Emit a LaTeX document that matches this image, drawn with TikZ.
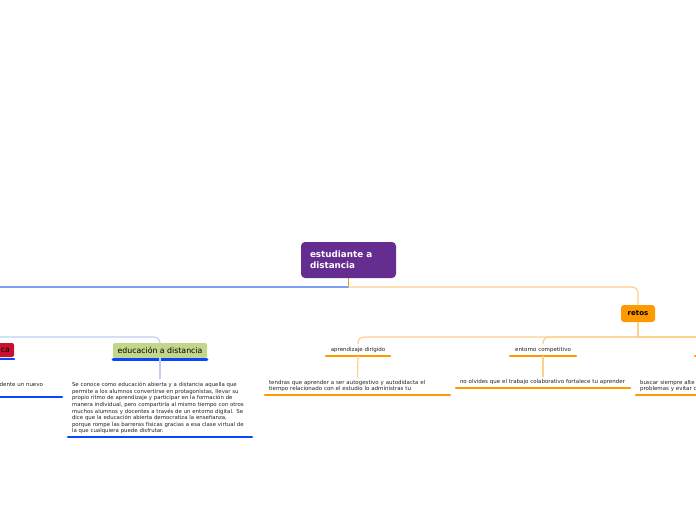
\documentclass[tikz,border=0pt]{standalone}
\usepackage{fontspec}
\setmainfont{DejaVu Sans}
\definecolor{cpurple}{RGB}{102,45,145}
\definecolor{cdorange}{RGB}{245,150,30}
\definecolor{clorange}{RGB}{255,208,140}
\definecolor{corange}{RGB}{255,153,0}
\definecolor{ctblue}{RGB}{125,160,240}
\definecolor{clblue}{RGB}{190,208,250}
\definecolor{cblue}{RGB}{10,70,255}
\definecolor{cgreen}{RGB}{196,214,138}
\definecolor{cred}{RGB}{200,16,46}
\definecolor{ctext}{RGB}{35,35,35}
\newcommand{\myline}[1]{\mbox{#1}}
\begin{document}
\begin{tikzpicture}[x=1pt,y=-1pt,
 every node/.style={inner sep=0pt,outer sep=0pt},
 rootbox/.style={fill=cpurple,rounded corners=4pt,minimum width=95pt,minimum height=36pt,text width=77pt,align=left,inner xsep=9pt,text=white,font=\fontsize{8.8}{11}\selectfont\bfseries},
 retobox/.style={fill=corange,rounded corners=3pt,minimum width=34pt,minimum height=17pt,font=\fontsize{7}{8}\selectfont\bfseries},
 edubox/.style={fill=cgreen,rounded corners=2pt,minimum width=94pt,minimum height=15pt,font=\fontsize{7.8}{9}\selectfont},
 redbox/.style={fill=cred,rounded corners=2pt,minimum height=14pt,text width=36pt,align=right,inner xsep=4pt,font=\fontsize{7.8}{9}\selectfont},
 sub/.style={minimum height=12pt,font=\fontsize{5.5}{6.6}\selectfont,text=ctext},
 leaf/.style={align=left,inner xsep=4pt,inner ysep=3pt,font=\fontsize{5.5}{6.8}\selectfont,text=ctext},
 plain/.style={font=\fontsize{5.5}{6.8}\selectfont,text=ctext},
 uo/.style={draw=corange,line width=2.6pt,line cap=round},
 ub/.style={draw=cblue,line width=2.6pt,line cap=round},
 lo/.style={draw=clorange,line width=1.2pt},
 lb/.style={draw=clblue,line width=1.2pt},
]
\useasboundingbox (0,0) rectangle (696,520);
\fill[white] (0,0) rectangle (696,520);

% root
\node[rootbox,anchor=north west] (root) at (301,242) {estudiante a\\distancia};
\coordinate (j0) at (348.5,287);
\coordinate (lft) at (-5,287);
\draw[draw=cdorange,line width=1.2pt] (root.south) -- (j0);
\draw[draw=ctblue,line width=1.5pt] (j0) -- (lft);

% retos branch
\node[retobox] (retos) at (638,313.5) {retos};
\draw[lo,rounded corners=6pt] (j0) -| (retos.north);
\coordinate (j1) at (638,337);
\coordinate (rgt) at (705,337);
\draw[lo] (retos.south) -- (j1);
\node[sub,minimum width=64pt,anchor=south] (apr) at (358,356) {aprendizaje dirigido};
\node[sub,minimum width=66pt,anchor=south] (ent) at (543,356) {entorno competitivo};
\draw[lo,rounded corners=6pt] (apr.north) |- (j1);
\draw[lo,rounded corners=6pt] (ent.north) |- (j1);
\draw[lo] (j1) -- (rgt);
\draw[uo] (apr.south west) -- (apr.south east);
\draw[uo] (ent.south west) -- (ent.south east);

\node[leaf,anchor=south,text width=177pt] (aprt) at (357.5,395) {\myline{tendras que aprender a ser autogestivo y autodidacta el}\\\myline{tiempo relacionado con el estudio lo administras tu}};
\draw[lo] (apr.south) -- (aprt.north);
\draw[uo] (aprt.south west) -- (aprt.south east);

\node[leaf,anchor=south,text width=166pt] (entt) at (543,388) {\myline{no olvides que el trabajo colaborativo fortalece tu aprender}};
\draw[lo] (ent.south) -- (entt.north);
\draw[uo] (entt.south west) -- (entt.south east);

\coordinate (r3a) at (695,356);
\coordinate (r3b) at (712,356);
\draw[uo] (r3a) -- (r3b);
\node[leaf,anchor=south west,text width=64pt] (bus) at (636,395) {\myline{buscar siempre alte}\\\myline{problemas y evitar c}};
\coordinate (bus2) at (712,395);
\draw[uo] (bus.south west) -- (bus2);

% educacion branch
\node[edubox] (edu) at (160,350.5) {educación a distancia};
\coordinate (lft2) at (-5,337);
\draw[lb,rounded corners=6pt] (lft2) -| (edu.north);
\draw[ub] ([yshift=-1.2pt]edu.south west) -- ([yshift=-1.2pt]edu.south east);
\node[leaf,anchor=south,text width=176pt,font=\fontsize{5.4}{6.6}\selectfont] (edut) at (160,437) {\myline{Se conoce como educación abierta y a distancia aquella que}\\\myline{permite a los alumnos convertirse en protagonistas, llevar su}\\\myline{propio ritmo de aprendizaje y participar en la formación de}\\\myline{manera individual, pero compartirla al mismo tiempo con otros}\\\myline{muchos alumnos y docentes a través de un entorno digital. Se}\\\myline{dice que la educación abierta democratiza la enseñanza,}\\\myline{porque rompe las barreras físicas gracias a esa clase virtual de}\\\myline{la que cualquiera puede disfrutar.}};
\draw[lb] (edu.south) -- (edut.north);
\draw[ub] (edut.south west) -- (edut.south east);

% red branch (cut off)
\node[redbox,anchor=north east] (red) at (14,343) {ca};
\draw[ub] ([yshift=-2pt]red.south west) -- ([yshift=-2pt]red.south east);
\node[plain,anchor=base east] (den) at (43,386) {dente un nuevo};
\coordinate (d0) at (-5,397);
\coordinate (d1) at (62,397);
\draw[ub] (d0) -- (d1);
\end{tikzpicture}
\end{document}
